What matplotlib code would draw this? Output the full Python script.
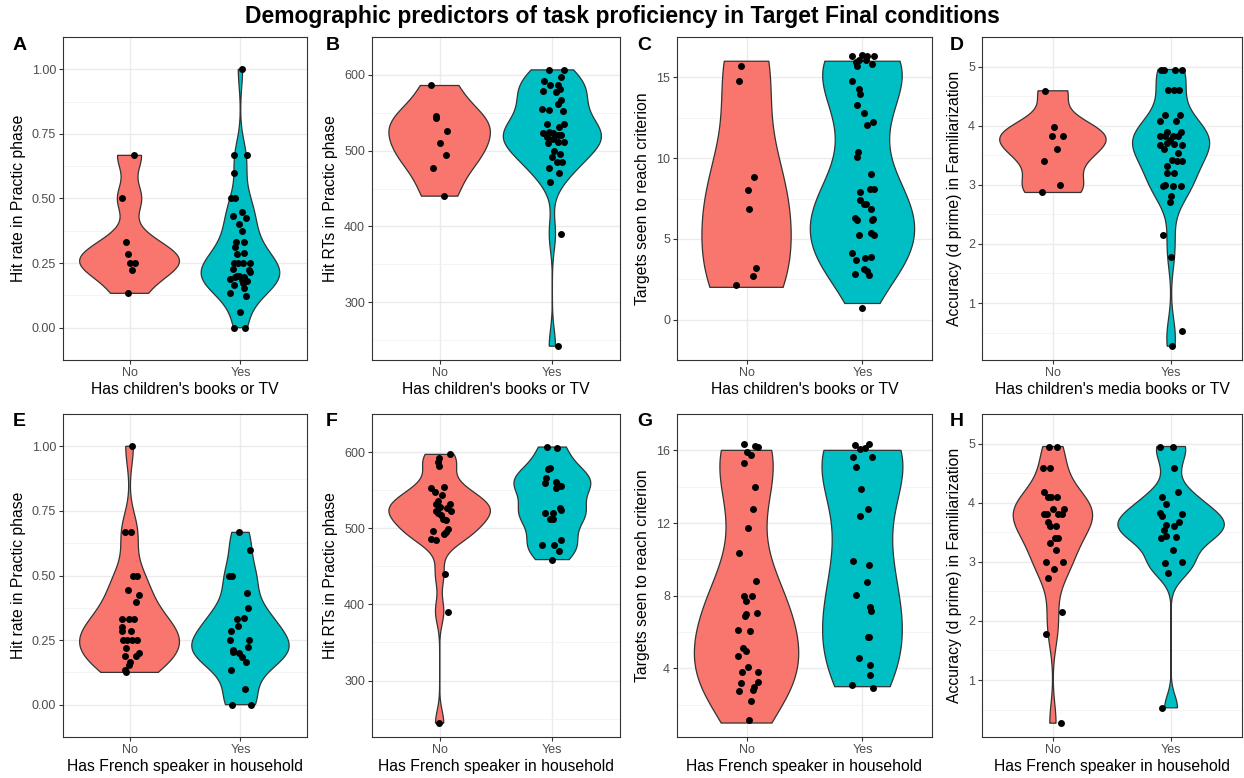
import numpy as np
import matplotlib
matplotlib.use("Agg")
import matplotlib.pyplot as plt

plt.rcParams['font.family'] = ['Liberation Sans', 'DejaVu Sans']

# ---- data (value, horizontal jitter, vertical jitter) ----
groups = ["No", "Yes"]

# A: hit rate vs children's media
a_no = [0.667, 0.5, 0.333, 0.286, 0.25, 0.25, 0.222, 0.133]
a_no_dx = [0.038, -0.065, -0.03, -0.015, 0, 0.053, 0.018, -0.015]
a_yes = [1.0, 0.667, 0.667, 0.6, 0.5, 0.5, 0.432, 0.447, 0.426, 0.4, 0.375, 0.333, 0.333,
         0.312, 0.29, 0.286, 0.25, 0.25, 0.25, 0.25, 0.229, 0.222, 0.214, 0.2, 0.2, 0.198,
         0.195, 0.19, 0.185, 0.18, 0.172, 0.167, 0.155, 0.133, 0.124, 0.061, 0.0, 0.0]
a_yes_dx = [0.018, -0.062, 0.059, -0.062, -0.083, -0.047, -0.068, 0.015, 0.05, -0.009, 0.015,
            -0.038, 0.036, -0.047, 0.036, -0.033, -0.056, -0.018, 0.027, 0.089, -0.065, 0.075,
            0.086, -0.03, -0.009, -0.047, 0.036, -0.092, 0.01, 0.056, 0.021, -0.059, 0.033,
            -0.092, 0.05, 0, -0.062, 0.038]

# B: hit RTs vs children's media
b_no = [586, 545.5, 543, 526, 510, 494.6, 477, 440]
b_no_dx = [-0.074, -0.03, -0.036, 0.068, 0, 0.059, -0.059, 0.036]
b_yes = [606.6, 605.8, 592, 597.5, 586, 587, 578.5, 577.7, 582, 566.5, 561, 555, 554, 552,
         535.5, 535.5, 531, 523, 525, 523, 521, 521, 518, 516, 510, 511.6, 511, 500, 492,
         496, 485.5, 485.5, 477.7, 470, 458.7, 390, 242]
b_yes_dx = [-0.033, 0.104, -0.074, 0.08, -0.018, 0.05, -0.083, 0.036, 0.071, 0.074, 0.05,
            -0.092, -0.033, 0.092, -0.044, 0.1, 0.059, -0.083, -0.03, 0.006, 0.05, 0.08,
            -0.047, 0.006, -0.038, 0.05, 0.104, 0.015, 0, 0.065, 0.041, 0.086, -0.03, 0.059,
            -0.018, 0.074, 0.05]

# C: targets to criterion vs children's media
c_no = [16, 15, 9, 8, 7, 3, 3, 2]
c_no_dx = [-0.049, -0.066, 0.066, 0.014, 0.023, 0.084, 0.058, -0.092]
c_no_dy = [-0.27, -0.25, -0.16, 0.03, -0.18, 0.22, -0.27, 0.16]
c_yes = [16, 16, 16, 16, 16, 16, 16, 16, 16, 15, 14, 14, 13, 13, 12, 12, 10, 10, 9, 8, 8, 8,
         7, 7, 7, 7, 6, 6, 6, 6, 5, 5, 5, 4, 4, 4, 4, 3, 3, 3, 3, 1]
c_yes_dx = [-0.089, -0.003, 0.04, 0.098, -0.032, 0.029, -0.058, 0.084, -0.046, -0.089, -0.032,
            -0.017, -0.043, 0.012, 0.092, 0.04, -0.037, -0.043, 0.078, 0.069, 0.098, -0.023,
            -0.023, 0.014, 0.029, 0.072, -0.063, -0.043, 0.092, 0.084, -0.032, 0.072, 0.098,
            -0.086, -0.052, 0.02, 0.078, 0.014, 0.037, -0.063, 0.055, 0]
c_yes_dy = [0.35, 0.39, 0.35, 0.35, 0.09, 0.09, -0.02, -0.2, -0.27, -0.25, 0.29, 0, 0.27,
            -0.23, 0.24, 0.06, 0.4, 0.07, 0.03, 0.1, 0.1, -0.11, 0.39, 0.13, 0.18, -0.18,
            0.29, 0.15, 0.24, 0.15, 0.26, 0.34, 0.26, 0.15, -0.29, -0.17, -0.11, 0.15, -0.02,
            -0.15, -0.24, -0.29]

# D: d prime vs children's media
d_no = [4.59, 3.98, 3.82, 3.82, 3.61, 3.40, 2.99, 2.87]
d_no_dx = [-0.064, 0.008, -0.011, 0.086, 0.031, -0.075, 0.056, -0.092]
d_yes = [4.95, 4.95, 4.95, 4.95, 4.6, 4.6, 4.6, 4.18, 4.18, 4.08, 4.08, 3.9, 3.9, 3.82, 3.82,
         3.83, 3.82, 3.75, 3.67, 3.7, 3.69, 3.68, 3.6, 3.54, 3.42, 3.41, 3.4, 3.32, 3.2, 3.2,
         2.98, 3.0, 2.98, 2.98, 2.81, 2.71, 2.15, 1.78, 0.53, 0.27]
d_yes_dx = [-0.083, -0.064, 0.033, 0.089, -0.028, 0.022, 0.064, -0.05, 0.075, -0.092, 0.042,
            -0.036, 0.083, -0.092, -0.05, 0.014, 0.061, -0.008, -0.092, -0.036, 0.028, 0.089,
            -0.064, 0.061, 0.008, 0.047, 0.089, -0.033, -0.036, 0.028, -0.069, -0.05, 0.019,
            0.083, 0, -0.008, -0.067, 0.003, 0.092, 0.006]

# E: hit rate vs French speaker
e_no = [1.0, 0.667, 0.667, 0.5, 0.5, 0.445, 0.426, 0.397, 0.333, 0.333, 0.333, 0.3, 0.286,
        0.284, 0.25, 0.25, 0.25, 0.25, 0.218, 0.2, 0.19, 0.187, 0.166, 0.155, 0.133, 0.125]
e_no_dx = [0.018, -0.038, 0.009, 0.033, 0.065, -0.018, 0.083, 0.059, -0.068, -0.006, 0.038,
           -0.065, 0.015, -0.068, -0.059, -0.027, 0.021, 0.071, -0.03, 0.089, 0.059, -0.038,
           0, -0.006, -0.044, -0.03]
e_yes = [0.667, 0.6, 0.5, 0.5, 0.431, 0.373, 0.333, 0.335, 0.304, 0.286, 0.25, 0.25, 0.222,
         0.213, 0.204, 0.2, 0.185, 0.165, 0.133, 0.06, 0.0, 0.0]
e_yes_dx = [-0.015, 0.086, -0.107, -0.077, 0.062, 0.071, -0.033, 0.033, -0.024, -0.089,
            -0.092, 0.08, 0.071, -0.068, -0.068, -0.015, 0.012, 0.05, -0.083, 0.038, -0.074,
            0.095]

# F: hit RTs vs French speaker
f_no = [597, 592, 587, 581.5, 552.7, 554.7, 547, 543.6, 535.4, 531.3, 531.3, 528, 526, 523,
        522, 519.8, 511.5, 510.7, 517.7, 499.6, 497, 495, 493, 486, 484, 440, 390.5, 244]
f_no_dx = [0.089, -0.006, -0.012, -0.006, -0.077, 0.036, -0.044, 0.024, -0.015, -0.03,
           0.089, 0.006, 0.065, -0.036, 0.098, -0.015, 0.03, 0.059, 0.009, 0.074, -0.059,
           0.059, 0.038, -0.074, -0.03, 0.044, 0.074, -0.009]
f_yes = [606.6, 605.8, 577.4, 578.6, 566.3, 559, 561, 553, 555, 557, 526, 524, 520.6, 520,
         511.5, 511.5, 485, 477.8, 477.8, 470.4, 458.8]
f_yes_dx = [-0.044, 0.044, -0.038, -0.024, -0.059, -0.068, 0.036, 0.03, 0.08, 0.053, 0.071,
            0.08, -0.062, 0.006, -0.018, 0.006, 0.074, -0.092, 0.012, 0.059, -0.003]

# G: targets to criterion vs French speaker
g_no = [16, 16, 16, 16, 16, 15, 14, 13, 12, 10, 9, 8, 8, 8, 7, 7, 7, 6, 6, 5, 5, 5, 4, 4, 4,
        3, 3, 3, 3, 3, 2, 1]
g_no_dx = [-0.026, 0.072, 0.101, 0, 0.035, -0.023, 0.072, 0.058, 0.012, -0.063, 0.084,
           -0.023, 0.043, -0.006, -0.006, 0.092, -0.014, -0.078, 0.032, -0.029, -0.009,
           -0.072, 0.012, -0.035, 0.095, -0.052, 0.095, 0.066, 0.058, -0.066, 0.035, 0.023]
g_no_dy = [0.37, 0.23, 0.17, -0.09, -0.26, 0.3, 0, -0.21, -0.27, 0.35, -0.19, 0, 0, -0.3,
           -0.02, 0.07, -0.1, 0.14, 0.09, 0.1, -0.02, -0.34, 0.09, -0.17, -0.19, 0.2, 0.25,
           -0.03, -0.2, -0.26, 0.22, 0.14]
g_yes = [16, 16, 16, 16, 16, 16, 15, 14, 13, 12, 10, 10, 9, 8, 7, 7, 6, 6, 5, 4, 4, 3, 3]
g_yes_dx = [-0.066, -0.023, 0.058, 0.02, -0.084, 0.084, -0.058, -0.009, 0.049, -0.02, -0.078,
            0.058, 0.035, -0.058, 0.063, 0.072, 0.049, 0.058, -0.032, 0.069, 0.069, -0.086,
            0.092]
g_yes_dy = [0.28, 0.09, 0.35, 0.14, -0.38, -0.38, 0.09, -0.1, -0.23, 0.39, -0.09, -0.31,
            -0.23, 0.05, 0.39, 0.16, -0.27, -0.27, -0.4, 0.19, -0.38, 0.09, -0.06]

# H: d prime vs French speaker
h_no = [4.95, 4.95, 4.59, 4.59, 4.18, 4.09, 4.09, 4.09, 3.9, 3.9, 3.81, 3.81, 3.81, 3.81,
        3.68, 3.61, 3.61, 3.41, 3.41, 3.32, 3.2, 2.99, 2.99, 2.87, 2.72, 2.15, 1.78, 0.27]
h_no_dx = [-0.036, 0.033, -0.083, -0.028, -0.072, -0.042, -0.019, 0.036, 0, 0.094, -0.075,
           -0.05, 0.039, 0.075, -0.042, -0.028, 0.028, 0.017, 0.044, -0.022, 0.022, -0.061,
           0.083, 0.008, -0.044, 0.075, -0.056, 0.069]
h_yes = [4.95, 4.95, 4.59, 4.18, 4.09, 3.98, 3.82, 3.78, 3.81, 3.62, 3.61, 3.68, 3.54, 3.43,
         3.4, 3.42, 3.2, 2.98, 2.99, 2.81, 0.53]
h_yes_dx = [-0.092, 0.019, 0.022, 0.056, -0.075, -0.047, -0.092, -0.078, 0.092, -0.047,
            0.022, 0.067, -0.058, -0.044, -0.083, 0.044, 0.017, -0.053, 0.089, -0.022,
            -0.075]

title = "Demographic predictors of task proficiency in Target Final conditions"
hit_ticks = [0, 0.25, 0.5, 0.75, 1.0]
rt_ticks = [300, 400, 500, 600]
tgt_ticks_c = [0, 5, 10, 15]
tgt_ticks_g = [4, 8, 12, 16]
acc_ticks = [1, 2, 3, 4, 5]

fill_cols = ["#F8766D", "#00BFC4"]


def violin_density(vals):
    """Gaussian KDE like R's density() with bw.nrd0, trimmed to data range."""
    v = np.asarray(vals, float)
    n = len(v)
    sd = v.std(ddof=1)
    q75, q25 = np.percentile(v, [75, 25])
    lo = min(sd, (q75 - q25) / 1.34)
    if lo <= 0:
        lo = sd
    bw = 0.9 * lo * n ** -0.2
    y = np.linspace(v.min(), v.max(), 512)
    dens = np.exp(-0.5 * ((y[:, None] - v[None, :]) / bw) ** 2).sum(1) / (n * bw * np.sqrt(2 * np.pi))
    return y, dens


def draw_panel(ax, series, ylabel, xlabel, ticks, fmt):
    dens_list = [violin_density(s[0]) for s in series]
    dmax = max(d.max() for _, d in dens_list)
    for i, ((y, d), (vals, dx, dy)) in enumerate(zip(dens_list, series)):
        xc = i + 1
        w = 0.45 * d / dmax
        ax.fill(np.concatenate([xc - w, (xc + w)[::-1]]), np.concatenate([y, y[::-1]]),
                facecolor=fill_cols[i], edgecolor="#333333", linewidth=0.9, zorder=2)
        vals = np.asarray(vals, float)
        px = xc + np.asarray(dx, float)
        py = vals + (np.asarray(dy, float) if dy is not None else 0)
        ax.plot(px, py, "o", color="black", markersize=5.0, markeredgewidth=0, zorder=3)

    ax.set_xlim(0.4, 2.6)
    ax.margins(y=0.05)
    ax.set_xticks([1, 2])
    ax.set_xticklabels(groups)
    ax.set_yticks(ticks)
    ax.set_yticklabels([fmt.format(t) for t in ticks])
    step = ticks[1] - ticks[0]
    minors = [t - step / 2 for t in ticks] + [ticks[-1] + step / 2]
    ax.set_yticks(minors, minor=True)
    ax.set_xticks([], minor=True)
    ax.grid(True, which="major", color="#EBEBEB", linewidth=1.0, zorder=0)
    ax.grid(True, which="minor", axis="y", color="#F2F2F2", linewidth=0.6, zorder=0)
    ax.set_axisbelow(True)
    ax.tick_params(which="major", length=3, width=0.8, color="#333333",
                   labelcolor="#4D4D4D", labelsize=9, pad=2)
    ax.tick_params(which="minor", length=0)
    for sp in ax.spines.values():
        sp.set_color("#333333")
        sp.set_linewidth(0.8)
    ax.set_ylabel(ylabel, fontsize=11.3, labelpad=4)
    ax.set_xlabel(xlabel, fontsize=11.3, labelpad=2)


fig = plt.figure(figsize=(12.44, 7.78), dpi=100)
W, H = 1244, 778

panels = [
    ("A", (63, 37, 307, 360), [(a_no, a_no_dx, None), (a_yes, a_yes_dx, None)],
     "Hit rate in Practic phase", "Has children's books or TV", hit_ticks, "{:.2f}"),
    ("B", (372, 37, 620, 360), [(b_no, b_no_dx, None), (b_yes, b_yes_dx, None)],
     "Hit RTs in Practic phase", "Has children's books or TV", rt_ticks, "{:.0f}"),
    ("C", (677, 37, 932, 360), [(c_no, c_no_dx, c_no_dy), (c_yes, c_yes_dx, c_yes_dy)],
     "Targets seen to reach criterion", "Has children's books or TV", tgt_ticks_c, "{:.0f}"),
    ("D", (982, 37, 1242, 360), [(d_no, d_no_dx, None), (d_yes, d_yes_dx, None)],
     "Accuracy (d prime) in Familiarization", "Has children's media books or TV", acc_ticks, "{:.0f}"),
    ("E", (63, 414, 307, 737), [(e_no, e_no_dx, None), (e_yes, e_yes_dx, None)],
     "Hit rate in Practic phase", "Has French speaker in household", hit_ticks, "{:.2f}"),
    ("F", (372, 414, 620, 737), [(f_no, f_no_dx, None), (f_yes, f_yes_dx, None)],
     "Hit RTs in Practic phase", "Has French speaker in household", rt_ticks, "{:.0f}"),
    ("G", (677, 414, 932, 737), [(g_no, g_no_dx, g_no_dy), (g_yes, g_yes_dx, g_yes_dy)],
     "Targets seen to reach criterion", "Has French speaker in household", tgt_ticks_g, "{:.0f}"),
    ("H", (982, 414, 1242, 737), [(h_no, h_no_dx, None), (h_yes, h_yes_dx, None)],
     "Accuracy (d prime) in Familiarization", "Has French speaker in household", acc_ticks, "{:.0f}"),
]

letter_x = {"A": 13, "B": 326, "C": 637, "D": 950, "E": 13, "F": 326, "G": 637, "H": 950}

for letter, (l, t, r, b), series, ylab, xlab, ticks, fmt in panels:
    ax = fig.add_axes([l / W, 1 - b / H, (r - l) / W, (b - t) / H])
    draw_panel(ax, series, ylab, xlab, ticks, fmt)
    ty = 45 if t < 100 else 422
    fig.text(letter_x[letter] / W, 1 - ty / H, letter, fontsize=14, fontweight="bold",
             ha="left", va="center")

fig.text(0.5, 1 - 17 / H, title, fontsize=16.5, fontweight="bold", ha="center", va="center")

fig.savefig("out.png", dpi=100)
